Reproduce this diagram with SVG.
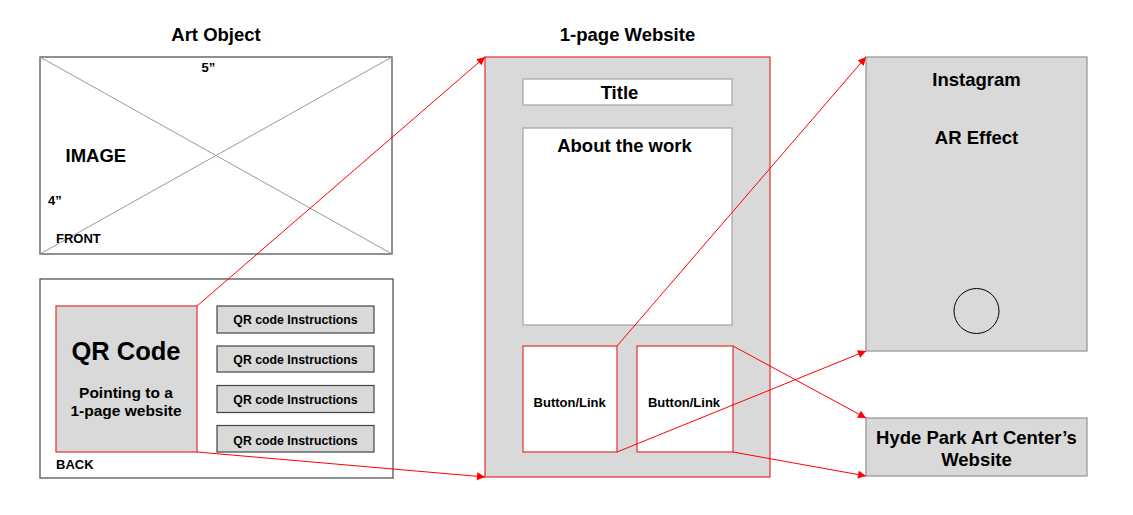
<svg xmlns="http://www.w3.org/2000/svg" width="1133" height="515" viewBox="0 0 1133 515">
  <defs>
    <marker id="arrow" viewBox="0 0 10 10" refX="10" refY="5" markerWidth="9" markerHeight="8" markerUnits="userSpaceOnUse" orient="auto">
      <path d="M0,0 L10,5 L0,10 Z" fill="#ff0000"/>
    </marker>
    <style>
      text { font-family: "Liberation Sans", Arial, Helvetica, sans-serif; font-weight: bold; fill: #000; }
      .hdr { font-size: 18.5px; text-anchor: middle; }
      .big { font-size: 18.5px; }
      .sm { font-size: 13px; }
      .ins { font-size: 12.3px; text-anchor: middle; }
      .mid { text-anchor: middle; }
      .frame { fill: #fff; stroke: #555; stroke-width: 1.3; }
      .cross { stroke: #999; stroke-width: 1; }
      .grey { fill: #d9d9d9; stroke: #999; stroke-width: 1.3; }
      .instr { fill: #d9d9d9; stroke: #444; stroke-width: 1.2; }
      .redbox { fill: #d9d9d9; stroke: #e53c3c; stroke-width: 1.3; }
      .field { fill: #fff; stroke: #aaa; stroke-width: 1.3; }
      .btn { fill: #fff; stroke: #e53c3c; stroke-width: 1.3; }
      .link { fill: none; stroke: #ff0000; stroke-width: 1; marker-end: url(#arrow); }
    </style>
  </defs>

  <rect width="1133" height="515" fill="#fff"/>

  <!-- column headings -->
  <text class="hdr" x="216" y="41">Art Object</text>
  <text class="hdr" x="627.5" y="41">1-page Website</text>

  <!-- front of the art object -->
  <g id="front">
    <rect class="frame" x="40" y="57" width="352" height="197"/>
    <line class="cross" x1="40" y1="57" x2="392" y2="254"/>
    <line class="cross" x1="392" y1="57" x2="40" y2="254"/>
    <text class="sm" x="201.5" y="72">5”</text>
    <text class="big" x="65.5" y="162">IMAGE</text>
    <text class="sm" x="48" y="205">4”</text>
    <text class="sm" x="56" y="243">FRONT</text>
  </g>

  <!-- back of the art object -->
  <g id="back">
    <rect class="frame" x="40" y="279" width="353" height="199"/>
    <text class="sm" x="56" y="469">BACK</text>
  </g>

  <g id="qr-code">
    <rect class="redbox" x="56" y="306" width="141" height="146"/>
    <text class="mid" x="126" y="360" font-size="25.5">QR Code</text>
    <text class="mid" x="126" y="398" font-size="15.5">Pointing to a</text>
    <text class="mid" x="126" y="416" font-size="15.5">1-page website</text>
  </g>

  <g id="instructions-1">
    <rect class="instr" x="217" y="306" width="157" height="27"/>
    <text class="ins" x="295.5" y="324">QR code Instructions</text>
  </g>
  <g id="instructions-2">
    <rect class="instr" x="217" y="346" width="157" height="26"/>
    <text class="ins" x="295.5" y="364">QR code Instructions</text>
  </g>
  <g id="instructions-3">
    <rect class="instr" x="217" y="385.5" width="157" height="27"/>
    <text class="ins" x="295.5" y="404">QR code Instructions</text>
  </g>
  <g id="instructions-4">
    <rect class="instr" x="217" y="425.5" width="157" height="26.5"/>
    <text class="ins" x="295.5" y="444.5">QR code Instructions</text>
  </g>

  <!-- website page -->
  <g id="website">
    <rect class="redbox" x="485" y="57" width="285" height="420"/>
  </g>
  <g id="title">
    <rect class="field" x="523" y="79" width="209" height="26"/>
    <text class="big mid" x="619.5" y="99">Title</text>
  </g>
  <g id="about">
    <rect class="field" x="523" y="128" width="209" height="197"/>
    <text class="big mid" x="624.5" y="152">About the work</text>
  </g>
  <g id="button-1">
    <rect class="btn" x="523" y="346" width="94" height="106"/>
    <text class="sm mid" x="569.7" y="407">Button/Link</text>
  </g>
  <g id="button-2">
    <rect class="btn" x="637" y="346" width="96" height="106"/>
    <text class="sm mid" x="684" y="407">Button/Link</text>
  </g>

  <!-- destinations -->
  <g id="instagram">
    <rect class="grey" x="866" y="57" width="221" height="294"/>
    <text class="big mid" x="976.5" y="86">Instagram</text>
    <text class="big mid" x="976.5" y="144">AR Effect</text>
    <circle cx="976.5" cy="311" r="22.5" fill="none" stroke="#000" stroke-width="1"/>
  </g>
  <g id="hyde-park">
    <rect class="grey" x="866" y="418" width="221" height="58"/>
    <text class="big mid" x="976.5" y="444">Hyde Park Art Center’s</text>
    <text class="big mid" x="976.5" y="466">Website</text>
  </g>

  <!-- connectors -->
  <g id="connectors">
    <line class="link" x1="197" y1="306" x2="485" y2="57"/>
    <line class="link" x1="197" y1="452" x2="485" y2="477"/>
    <line class="link" x1="617" y1="346" x2="866" y2="57"/>
    <line class="link" x1="617" y1="452" x2="866" y2="351"/>
    <line class="link" x1="733" y1="346" x2="866" y2="418"/>
    <line class="link" x1="733" y1="452" x2="866" y2="476"/>
  </g>
</svg>
